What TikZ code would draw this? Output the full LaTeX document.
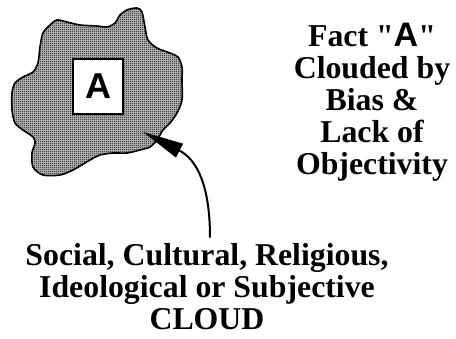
\documentclass[tikz,border=0pt]{standalone}
\usepackage{fontspec}
\setmainfont{Liberation Serif}
\newfontfamily\sansbold{Liberation Sans}
\usepackage{tikz}
\usetikzlibrary{positioning,arrows.meta,patterns}
\tikzset{>={Triangle[length=41pt,width=15pt]}}
\pgfdeclarepatternformonly{stipple}{\pgfpointorigin}{\pgfqpoint{2pt}{2pt}}{\pgfqpoint{2pt}{2pt}}{%
  \pgfpathrectangle{\pgfpointorigin}{\pgfqpoint{1pt}{1pt}}%
  \pgfpathrectangle{\pgfqpoint{1pt}{1pt}}{\pgfqpoint{1pt}{1pt}}%
  \pgfusepath{fill}}
\tikzset{
  cloudline/.style={line width=1.6pt, line join=round, preaction={fill=black!25}, pattern=stipple},
  factbox/.style={draw, fill=white, line width=1.6pt, minimum width=50pt, minimum height=55pt, inner sep=0pt, font=\sansbold\bfseries\fontsize{36}{36}\selectfont},
  caption/.style={align=center, inner sep=0pt, font=\bfseries\fontsize{31.8}{32}\selectfont}
}

\begin{document}
\begin{tikzpicture}[x=1pt, y=-1pt]
    \useasboundingbox (0,0) rectangle (456,338);
    % the cloud
    \draw[cloudline] plot[smooth cycle, tension=0.5] coordinates {
      (50,25) (57,20) (67,22) (80,25) (97,26) (107,27) (115,23) (120,15)
      (127,10) (137,8) (142,12) (145,27) (148,40) (157,48) (170,53) (178,57)
      (182,67) (182,80) (182,100) (177,113) (170,123) (163,130) (157,140)
      (150,147) (140,150) (127,153) (113,153) (100,155) (90,160) (73,170)
      (60,175) (43,175) (33,167) (32,153) (35,143) (33,137) (23,130)
      (15,123) (12,110) (12,93) (15,83) (23,77) (33,72) (38,63) (40,47)
      (43,33)};
    \node[factbox] (fact) at (98,86.5) {A};
    \coordinate (tip) at (143,132);
    % captions
    \node[caption] (title) at (372,102) {Fact \textquotedbl{\sansbold\fontsize{34}{32}\selectfont A}\textquotedbl\\Clouded by\\Bias \&\\Lack of\\Objectivity};
    \node[caption] (label) at (207,287) {Social, Cultural, Religious,\\Ideological or Subjective\\CLOUD};
    \draw[->, line width=2pt] ([xshift=3pt,yshift=6pt]label.north) .. controls +(0,-50) and (198,160) .. (tip);
\end{tikzpicture}
\end{document}
